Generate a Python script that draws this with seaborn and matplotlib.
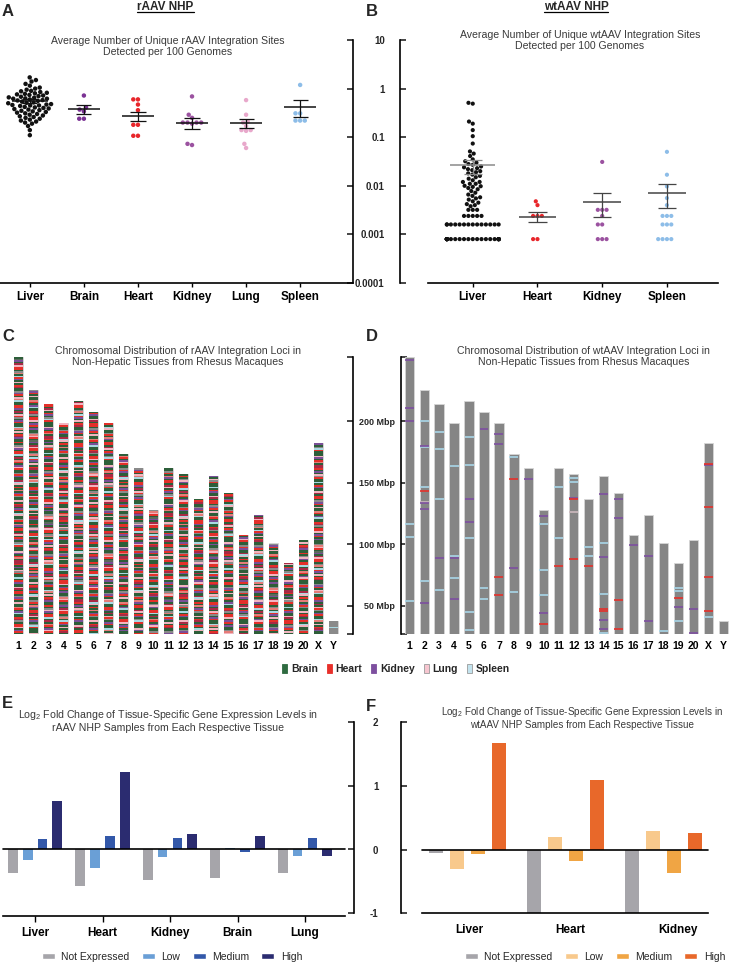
import numpy as np
import pandas as pd
import matplotlib.pyplot as plt
import seaborn as sns
from matplotlib.lines import Line2D
from matplotlib.patches import Patch
from matplotlib.ticker import NullLocator

W, H = 730, 964

sns.set_theme(style="white")
plt.rcParams["font.family"] = ["Liberation Sans", "DejaVu Sans"]
plt.rcParams["mathtext.default"] = "regular"

# ── Data: panels A / B (unique integration sites per 100 genomes) ─────────────
A_TISSUES = ["Liver", "Brain", "Heart", "Kidney", "Lung", "Spleen"]
A_LIVER = [1.7, 1.5, 1.4, 1.25, 1.15, 1.05, 1.0, 0.95, 0.9, 0.88, 0.85, 0.82,
           0.8, 0.78, 0.76, 0.74, 0.72, 0.7, 0.68, 0.66, 0.65, 0.63, 0.62, 0.62,
           0.6, 0.58, 0.57, 0.56, 0.54, 0.52, 0.51, 0.5, 0.48, 0.47, 0.46, 0.45,
           0.45, 0.44, 0.42, 0.41, 0.4, 0.39, 0.38, 0.37, 0.36, 0.35, 0.34, 0.33,
           0.32, 0.31, 0.3, 0.29, 0.28, 0.27, 0.26, 0.25, 0.24, 0.23, 0.22, 0.21,
           0.2, 0.19, 0.17, 0.14, 0.11]
A_BRAIN = [0.72, 0.41, 0.37, 0.34, 0.24, 0.24]
A_HEART = [0.6, 0.6, 0.47, 0.36, 0.18, 0.18, 0.107, 0.107]
A_KIDNEY = [0.69, 0.29, 0.25, 0.2, 0.2, 0.19, 0.2, 0.2, 0.073, 0.069]
A_LUNG = [0.58, 0.29, 0.21, 0.2, 0.17, 0.14, 0.14, 0.135, 0.073, 0.06]
A_SPLEEN = [1.19, 0.31, 0.31, 0.22, 0.22, 0.22]
A_VALUES = [A_LIVER, A_BRAIN, A_HEART, A_KIDNEY, A_LUNG, A_SPLEEN]
A_MEAN = [0.55, 0.376, 0.274, 0.194, 0.194, 0.414]
A_LO = [0.50, 0.297, 0.213, 0.146, 0.153, 0.257]
A_HI = [0.60, 0.455, 0.337, 0.246, 0.238, 0.585]

B_TISSUES = ["Liver", "Heart", "Kidney", "Spleen"]
B_LIVER = ([0.51, 0.49, 0.21, 0.19, 0.14, 0.105, 0.074, 0.051, 0.046, 0.041,
            0.035, 0.032, 0.03, 0.028, 0.027, 0.025, 0.024, 0.023, 0.022, 0.021,
            0.02, 0.019, 0.018, 0.017, 0.016, 0.015, 0.014, 0.013, 0.012, 0.012,
            0.011, 0.011, 0.01, 0.0098, 0.0095, 0.009, 0.0085, 0.0078, 0.0072,
            0.0066, 0.0062, 0.0058, 0.0055, 0.0052, 0.0048, 0.0045, 0.0042,
            0.004, 0.0038]
           + [0.0032] * 3 + [0.0024] * 5 + [0.0016] * 14 + [0.0008] * 28)
B_HEART = [0.0048, 0.004, 0.0024, 0.0024, 0.0024, 0.0008, 0.0008]
B_KIDNEY = [0.031, 0.0032, 0.0032, 0.0032, 0.0024, 0.0016, 0.0016,
            0.0008, 0.0008, 0.0008]
B_SPLEEN = [0.05, 0.0169, 0.0097, 0.0056, 0.004, 0.0024, 0.0024, 0.0024,
            0.0016, 0.0016, 0.0016, 0.0008, 0.0008, 0.0008, 0.0008]
B_VALUES = [B_LIVER, B_HEART, B_KIDNEY, B_SPLEEN]
B_MEAN = [0.0262, 0.00231, 0.00469, 0.00707]
B_LO = [0.0179, 0.00179, 0.00231, 0.00348]
B_HI = [0.0342, 0.00283, 0.00707, 0.0108]

DOT_COLORS = {"Liver": "#111111", "Brain": "#7b3294", "Heart": "#e8262b",
              "Kidney": "#9b52a0", "Lung": "#e8a8cb", "Spleen": "#8dbde8"}
LOG_TICKS = [0.0001, 0.001, 0.01, 0.1, 1, 10]
LOG_LABELS = ["0.0001", "0.001", "0.01", "0.1", "1", "10"]

# ── Data: panels C / D (chromosome ideograms, Mbp) ────────────────────────────
CHROMS = [str(i) for i in range(1, 21)] + ["X", "Y"]
CHROM_TOP = [252, 225.4, 214, 198.3, 216.6, 207.4, 198.3, 173.5, 162.1, 128.2,
             162.1, 157.5, 137.3, 155.4, 141.9, 107.6, 123.6, 100.9, 85.2,
             103.3, 182.4, 37.7]
MBP_TICKS = [50, 100, 150, 200]

# tissue code per stripe, read loosely down the rAAV ideograms (C)
STRIPE_PATTERN = ("GRKGLRRGxMRGGSKGRNGGLGRKxGRRGMLGGKRGSGGRxLGKGRMMGNRGKLGGGRSxGKR"
                  "GLMGRRGKNGRxGGLSGRKGMRGLGGxRKGNGRGLSMGGKRxGGRLKGRNGMGSRRGKLxGR"
                  "GGKMRGLGNSGGRKGxRLGMGKRRGGSNLGRKxGGMRGLGKRSGNxGRRLMGKDGRLNxGGK")
Y_PATTERN = "xxxKxxxxLxxxKxxxxSxx"
STRIPE_COLORS = {"G": "#2d5e39", "R": "#e4302a", "M": "#a92a45", "K": "#7a4f98",
                 "L": "#f2b4c0", "S": "#a8d8e2", "x": "#8a8a8a", "N": "#e57c78",
                 "D": "#5b6b5d"}

# wtAAV loci (D), chromosome and position in Mbp, one list per tissue
D_KIDNEY = [("1", 249.7), ("1", 210.8), ("1", 200.6), ("2", 180.3), ("2", 133.6),
            ("2", 129.0), ("2", 52.8), ("3", 89.0), ("4", 88.7), ("4", 56.0),
            ("5", 137.1), ("5", 118.5), ("6", 194.1), ("7", 189.5), ("7", 181.7),
            ("8", 80.9), ("9", 153.0), ("10", 123.0), ("10", 43.9), ("12", 137.9),
            ("14", 140.9), ("14", 89.8), ("14", 39.0), ("14", 30.9), ("15", 136.8),
            ("15", 121.4), ("16", 99.8), ("17", 90.4), ("17", 38.0), ("19", 48.8),
            ("20", 47.9), ("20", 27.9), ("X", 164.2)]
D_SPLEEN = [("1", 116.3), ("1", 106.3), ("1", 54.4), ("2", 200.0), ("2", 179.5),
            ("2", 146.6), ("2", 70.1), ("3", 191.7), ("3", 177.6), ("3", 137.1),
            ("3", 62.8), ("4", 163.6), ("4", 90.9), ("4", 73.1), ("5", 187.3),
            ("5", 164.6), ("5", 105.2), ("5", 45.3), ("5", 30.1), ("6", 65.0),
            ("6", 56.0), ("8", 171.1), ("8", 61.7), ("10", 116.3), ("10", 79.6),
            ("10", 59.3), ("11", 146.6), ("11", 105.2), ("12", 154.1), ("12", 151.1),
            ("13", 97.9), ("13", 90.4), ("14", 101.4), ("14", 60.1), ("14", 28.4),
            ("18", 29.9), ("19", 64.7), ("19", 62.0), ("19", 37.4), ("X", 41.2)]
D_HEART = [("2", 143.6), ("7", 73.6), ("7", 59.0), ("8", 153.0), ("10", 35.3),
           ("11", 82.5), ("12", 136.8), ("12", 88.5), ("13", 82.5), ("14", 47.9),
           ("14", 45.8), ("15", 55.2), ("15", 30.9), ("19", 56.1), ("X", 165.6),
           ("X", 130.5), ("X", 73.9), ("X", 46.3)]
D_LUNG = [("12", 126.3), ("2", 134.8)]
D_COLORS = {"Kidney": "#7d4fa0", "Spleen": "#a9d6e8", "Heart": "#e5302a",
            "Lung": "#cdb9be"}

LEGEND_CD = ["Brain", "Heart", "Kidney", "Lung", "Spleen"]
LEGEND_CD_FACE = ["#2e6b40", "#e8302a", "#7d4f9f", "#f7c6d0", "#c3e3ee"]
LEGEND_CD_EDGE = ["#2e6b40", "#e8302a", "#7d4f9f", "#9a9a9a", "#9a9a9a"]

# ── Data: panels E / F (log2 fold change by expression level) ────────────────
LEVELS = ["Not Expressed", "Low", "Medium", "High"]
E_TISSUES = ["Liver", "Heart", "Kidney", "Brain", "Lung"]
E_NOT = [-0.377, -0.57, -0.49, -0.456, -0.367]
E_LOW = [-0.17, -0.29, -0.126, 0.02, -0.105]
E_MED = [0.16, 0.215, 0.173, -0.047, 0.184]
E_HIGH = [0.764, 1.225, 0.236, 0.21, -0.11]
E_COLORS = ["#a6a5aa", "#6a9fd6", "#3358a9", "#2b2c70"]

F_TISSUES = ["Liver", "Heart", "Kidney"]
F_NOT = [-0.053, -1.0, -1.0]
F_LOW = [-0.305, 0.195, 0.30]
F_MED = [-0.068, -0.174, -0.368]
F_HIGH = [1.68, 1.095, 0.258]
F_COLORS = ["#a6a5aa", "#f8c98c", "#f0a544", "#e8682a"]

TITLE_COLOR = "#3a3a3a"


fig = plt.figure(figsize=(W / 100, H / 100), dpi=100)


def px_axes(x0, y0, x1, y1):
    return fig.add_axes([x0 / W, 1 - y1 / H, (x1 - x0) / W, (y1 - y0) / H])


def fig_text(x, y, s, **kw):
    return fig.text(x / W, 1 - y / H, s, **kw)


def only_spines(ax, keep, lw=1.2):
    for side, sp in ax.spines.items():
        sp.set_visible(side in keep)
        sp.set_linewidth(lw)
        sp.set_color("black")


# ── Panels A / B: dot plots on log scale ─────────────────────────────────────
def dot_panel(ax, tissues, values, means, lo, hi, mean_colors, mean_w, size):
    df = pd.DataFrame({"tissue": [t for t, v in zip(tissues, values) for _ in v],
                       "value": [x for v in values for x in v]})
    ax.set_yscale("log")
    sns.swarmplot(data=df, x="tissue", y="value", hue="tissue", order=tissues,
                  palette=DOT_COLORS, size=size, linewidth=0, legend=False,
                  warn_thresh=1, ax=ax)
    for i, (m, l, h, c) in enumerate(zip(means, lo, hi, mean_colors)):
        ax.hlines(m, i - mean_w[i], i + mean_w[i], color=c, lw=1.1, zorder=5)
        ax.vlines(i, l, h, color=c, lw=0.9, zorder=5)
        ax.hlines([l, h], i - 0.14, i + 0.14, color=c, lw=0.9, zorder=5)
    ax.set_ylim(1e-4, 10)
    ax.yaxis.set_minor_locator(NullLocator())
    ax.set_xlabel("")
    ax.set_ylabel("")
    ax.set_xticks(range(len(tissues)), tissues, fontweight="bold", fontsize=8.5)
    ax.tick_params(axis="x", length=3, width=1, direction="out", pad=3,
                   bottom=True, colors="black")


axA = px_axes(0, 40, 353, 283)
dot_panel(axA, A_TISSUES, A_VALUES, A_MEAN, A_LO, A_HI, ["#111111"] * 6,
          [0.33, 0.3, 0.3, 0.3, 0.3, 0.3], 3.2)
axA.set_xlim(-0.552, 5.978)
only_spines(axA, ["right", "bottom"])
axA.yaxis.tick_right()
axA.set_yticks(LOG_TICKS, [""] * 6)
axA.tick_params(axis="y", direction="in", length=4, width=1.2, right=True)

axB = px_axes(400, 40, 720, 283)
dot_panel(axB, B_TISSUES, B_VALUES, B_MEAN, B_LO, B_HI,
          ["#8a8a8a", "#444444", "#444444", "#444444"], [0.35, 0.29, 0.29, 0.29],
          3.0)
axB.set_xlim(-1.124, 3.82)
only_spines(axB, ["left", "bottom"])
axB.spines["bottom"].set_bounds(-0.69, 3.79)
axB.set_yticks(LOG_TICKS, LOG_LABELS, fontweight="bold", fontsize=7)
axB.tick_params(axis="y", direction="in", length=4, width=1.2, left=True, pad=11)

# ── Panels C / D: chromosome ideograms ───────────────────────────────────────
def chrom_panel(ax):
    sns.barplot(x=CHROMS, y=CHROM_TOP, color="#858585", saturation=1, width=0.62,
                linewidth=0.6, edgecolor="#d6d6d6", ax=ax)
    ax.set_ylim(27, 252.5)
    ax.set_xticks(range(len(CHROMS)), CHROMS, fontweight="bold", fontsize=7.5)
    ax.tick_params(axis="x", length=0, pad=5, colors="black")
    ax.set_xlabel("")
    ax.set_ylabel("")


axC = px_axes(0, 356.7, 352.7, 634.3)
chrom_panel(axC)
for i, (chrom, top) in enumerate(zip(CHROMS, CHROM_TOP)):
    pattern = Y_PATTERN if chrom == "Y" else STRIPE_PATTERN
    bottoms = np.arange(27, top - 0.3, 1.25)
    heights = np.minimum(1.25, top - bottoms)
    codes = [pattern[(k + 53 * i) % len(pattern)] for k in range(len(bottoms))]
    axC.bar(np.full(len(bottoms), i), heights, bottom=bottoms, width=0.62,
            color=[STRIPE_COLORS[c] for c in codes], linewidth=0)
axC.set_xlim(-1.22, 22.29)
only_spines(axC, ["right"])
axC.yaxis.tick_right()
axC.set_yticks([27] + MBP_TICKS + [252.5], [""] * 6)
axC.tick_params(axis="y", direction="in", length=4, width=1.2, right=True)

axD = px_axes(400.7, 356.7, 730, 634.3)
chrom_panel(axD)
pos = {c: i for i, c in enumerate(CHROMS)}
for tissue, loci in [("Spleen", D_SPLEEN), ("Lung", D_LUNG),
                     ("Kidney", D_KIDNEY), ("Heart", D_HEART)]:
    xs = np.array([pos[c] for c, _ in loci])
    ys = [m for _, m in loci]
    axD.hlines(ys, xs - 0.3, xs + 0.3, color=D_COLORS[tissue], lw=1.2, zorder=4)
axD.set_xlim(-0.57, 21.45)
only_spines(axD, ["left"])
axD.set_yticks([27] + MBP_TICKS + [252.5],
               [""] + [f"{t} Mbp" for t in MBP_TICKS] + [""],
               fontweight="bold", fontsize=6.5)
axD.tick_params(axis="y", direction="in", length=4, width=1.2, left=True, pad=4)

fig.legend(handles=[Patch(facecolor=f, edgecolor=e, linewidth=0.6)
                    for f, e in zip(LEGEND_CD_FACE, LEGEND_CD_EDGE)],
           labels=LEGEND_CD, loc="center", bbox_to_anchor=(396 / W, 1 - 669 / H),
           ncol=5, frameon=False, handlelength=0.45, handleheight=1.0,
           handletextpad=0.35, columnspacing=0.9,
           prop={"weight": "bold", "size": 7.5})

# ── Panels E / F: grouped bars ──────────────────────────────────────────────
def fold_panel(ax, tissues, series, colors, width, gap, legend_xy):
    df = pd.DataFrame({"tissue": tissues * 4,
                       "level": np.repeat(LEVELS, len(tissues)),
                       "lfc": [v for s in series for v in s]})
    sns.barplot(data=df, x="tissue", y="lfc", hue="level", order=tissues,
                hue_order=LEVELS, palette=colors, width=width, gap=gap,
                saturation=1, errorbar=None, legend=False, linewidth=0, ax=ax)
    ax.set_xlabel("")
    ax.set_ylabel("")
    ax.legend(handles=[Patch(facecolor=c) for c in colors], labels=LEVELS,
              loc="center", ncol=4, frameon=False, handlelength=1.25,
              handleheight=0.5, handletextpad=0.6, columnspacing=1.2,
              fontsize=7.5, bbox_to_anchor=(legend_xy[0] / W, 1 - legend_xy[1] / H),
              bbox_transform=fig.transFigure)


axE = px_axes(0, 722.3, 354, 916)
fold_panel(axE, E_TISSUES, [E_NOT, E_LOW, E_MED, E_HIGH], E_COLORS, 0.877, 0.34,
           (172, 956.7))
axE.set_xticks(range(len(E_TISSUES)), E_TISSUES, fontweight="bold", fontsize=8.5)
axE.set_xlim(-0.519, 4.726)
axE.set_ylim(-1.05, 2)
axE.plot([-0.48, 4.59], [0, 0], color="black", lw=1.2, zorder=5)
only_spines(axE, ["right", "bottom"])
axE.spines["bottom"].set_bounds(-0.48, 4.59)
axE.spines["right"].set_bounds(-1, 2)
axE.yaxis.tick_right()
axE.set_yticks([-1, 0, 1, 2], [""] * 4)
axE.tick_params(axis="y", direction="in", length=4, width=1.2, right=True)
axE.tick_params(axis="x", direction="out", length=4, width=1, bottom=True,
                pad=4, colors="black")

axF = px_axes(400.7, 722.3, 712, 913.3)
fold_panel(axF, F_TISSUES, [F_NOT, F_LOW, F_MED, F_HIGH], F_COLORS, 0.857, 0.333,
           (595, 956.7))
axF.set_xticks([0.02, 1.05, 2.154], F_TISSUES, fontweight="bold", fontsize=8.5)
axF.set_xlim(-0.68, 2.5)
axF.set_ylim(-1, 2)
axF.plot([-0.465, 2.46], [0, 0], color="black", lw=1.2, zorder=5)
only_spines(axF, ["left", "bottom"])
axF.spines["bottom"].set_bounds(-0.465, 2.46)
axF.set_yticks([-1, 0, 1, 2], ["-1", "0", "1", "2"], fontweight="bold", fontsize=7)
axF.tick_params(axis="y", direction="in", length=4, width=1.2, left=True, pad=16)
axF.tick_params(axis="x", length=0, pad=8, colors="black")

# ── Titles, subtitles, panel letters ─────────────────────────────────────────
for letter, x, y in [("A", 2, 4), ("B", 366, 4), ("C", 2, 329), ("D", 366, 329),
                     ("E", 2, 696), ("F", 366, 699)]:
    fig_text(x, y, letter, fontsize=12, fontweight="bold", ha="left", va="top")

tA = fig_text(165.5, 7.5, "rAAV NHP", fontsize=8.5, fontweight="bold",
              ha="center", va="center")
tB = fig_text(576, 7.5, "wtAAV NHP", fontsize=8.5, fontweight="bold",
              ha="center", va="center")

subtitles = [
    (167.7, 46.4, 7.6, "Average Number of Unique rAAV Integration Sites\nDetected per 100 Genomes"),
    (580, 40.4, 7.6, "Average Number of Unique wtAAV Integration Sites\nDetected per 100 Genomes"),
    (178, 356.4, 7.6, "Chromosomal Distribution of rAAV Integration Loci in\nNon-Hepatic Tissues from Rhesus Macaques"),
    (583.7, 356.4, 7.6, "Chromosomal Distribution of wtAAV Integration Loci in\nNon-Hepatic Tissues from Rhesus Macaques"),
    (168, 720.5, 7.6, "Log$_2$ Fold Change of Tissue-Specific Gene Expression Levels in\nrAAV NHP Samples from Each Respective Tissue"),
    (582, 717.5, 7.1, "Log$_2$ Fold Change of Tissue-Specific Gene Expression Levels in\nwtAAV NHP Samples from Each Respective Tissue"),
]
for x, y, fs, s in subtitles:
    fig_text(x, y, s, fontsize=fs, color=TITLE_COLOR, ha="center", va="center",
             linespacing=1.2)

# underline the two column headers
fig.canvas.draw()
renderer = fig.canvas.get_renderer()
for t in (tA, tB):
    bb = t.get_window_extent(renderer).transformed(fig.transFigure.inverted())
    yline = bb.y0 + 1.2 / H
    fig.add_artist(Line2D([bb.x0, bb.x1], [yline, yline], color="black", lw=0.9,
                          transform=fig.transFigure))

fig.savefig("out.png", dpi=100)
